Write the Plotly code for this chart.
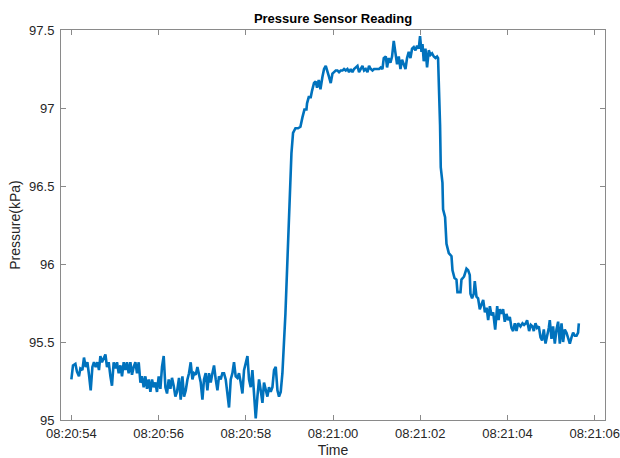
import pandas as pd
import plotly.graph_objects as go

# elapsed seconds after 08:20:54
t_sec = [
    0.000, 0.037, 0.092, 0.128, 0.174, 0.206, 0.252, 0.289, 0.328, 0.367, 0.404, 0.443, 0.482, 0.518,
    0.557, 0.596, 0.633, 0.665, 0.702, 0.741, 0.780, 0.817, 0.856, 0.895, 0.931, 0.970, 1.009, 1.046,
    1.085, 1.124, 1.161, 1.200, 1.239, 1.275, 1.314, 1.353, 1.390, 1.429, 1.468, 1.505, 1.544, 1.583,
    1.619, 1.658, 1.697, 1.734, 1.773, 1.812, 1.849, 1.888, 1.927, 1.963, 2.002, 2.041, 2.078, 2.117,
    2.156, 2.193, 2.232, 2.271, 2.307, 2.346, 2.385, 2.422,
    2.468, 2.507, 2.546, 2.583, 2.622, 2.661, 2.697, 2.736, 2.775, 2.812, 2.851, 2.890, 2.927, 2.966,
    3.005, 3.041, 3.080, 3.119, 3.156, 3.195, 3.234, 3.271, 3.310, 3.349, 3.385, 3.424, 3.463, 3.500,
    3.539, 3.578, 3.615, 3.654, 3.693, 3.729, 3.768, 3.807, 3.844, 3.883, 3.922, 3.959, 3.998, 4.037,
    4.073, 4.112, 4.151, 4.188, 4.227, 4.266, 4.303, 4.342, 4.381, 4.417, 4.456, 4.495, 4.532, 4.571,
    4.610, 4.647, 4.686, 4.725, 4.761, 4.800, 4.839,
    4.876, 4.908, 4.968, 5.023, 5.046, 5.083, 5.138, 5.197, 5.252, 5.298, 5.344, 5.390, 5.404, 5.443,
    5.489, 5.518, 5.564, 5.603, 5.633, 5.672, 5.711, 5.757, 5.794, 5.833, 5.872, 5.908, 5.947, 5.986,
    6.023, 6.062, 6.101, 6.138, 6.177, 6.216, 6.252, 6.291, 6.330, 6.367, 6.406, 6.445, 6.482, 6.521,
    6.560, 6.596, 6.635, 6.674, 6.711, 6.750, 6.789, 6.826, 6.865, 6.904, 6.940, 6.979, 7.018, 7.055,
    7.094, 7.133, 7.163, 7.209, 7.239, 7.277, 7.316, 7.353, 7.392, 7.431, 7.468, 7.507, 7.546, 7.583,
    7.622, 7.661, 7.697, 7.736, 7.775, 7.812, 7.851, 7.890, 7.927, 7.966, 7.995, 8.028, 8.051, 8.080,
    8.119, 8.156, 8.195, 8.234, 8.271, 8.310, 8.349, 8.385, 8.408, 8.431, 8.454,
    8.470, 8.509, 8.523, 8.569, 8.601, 8.654, 8.716, 8.739, 8.785, 8.830, 8.853, 8.922, 8.945, 9.005,
    9.060, 9.097, 9.135, 9.151, 9.188, 9.227, 9.250, 9.289, 9.326, 9.365, 9.404, 9.443, 9.482, 9.521,
    9.557, 9.596, 9.635, 9.672, 9.718, 9.764, 9.796,
    9.824, 9.863, 9.899, 9.938, 9.977, 10.014, 10.053, 10.092, 10.129, 10.168, 10.207, 10.243, 10.298,
    10.344, 10.381, 10.420, 10.450, 10.496, 10.535, 10.574, 10.603, 10.642, 10.679, 10.718, 10.757,
    10.794, 10.833, 10.872, 10.908, 10.947, 10.970, 11.009, 11.046, 11.085, 11.124, 11.161, 11.200,
    11.239, 11.275, 11.314, 11.353, 11.390, 11.429, 11.468, 11.505, 11.544, 11.583, 11.619, 11.636,
]

pressure = [
    95.26, 95.35, 95.36, 95.31, 95.28, 95.33, 95.32, 95.40, 95.34, 95.37, 95.29, 95.19, 95.34, 95.37,
    95.34, 95.37, 95.32, 95.41, 95.37, 95.39, 95.42, 95.34, 95.37, 95.28, 95.22, 95.37, 95.33, 95.37,
    95.30, 95.35, 95.28, 95.37, 95.32, 95.37, 95.30, 95.37, 95.29, 95.34, 95.37, 95.30, 95.37, 95.24,
    95.28, 95.21, 95.28, 95.20, 95.26, 95.18, 95.26, 95.21, 95.24, 95.18, 95.28, 95.20, 95.34, 95.41,
    95.21, 95.17, 95.26, 95.20, 95.27, 95.22, 95.15, 95.18,
    95.27, 95.13, 95.28, 95.15, 95.19, 95.26, 95.30, 95.37, 95.26, 95.30, 95.29, 95.34, 95.28, 95.24,
    95.13, 95.26, 95.30, 95.19, 95.30, 95.24, 95.30, 95.35, 95.26, 95.19, 95.28, 95.26, 95.30, 95.30,
    95.26, 95.18, 95.08, 95.26, 95.30, 95.37, 95.28, 95.27, 95.30, 95.24, 95.17, 95.32, 95.37, 95.41,
    95.26, 95.21, 95.32, 95.13, 95.01, 95.15, 95.26, 95.19, 95.11, 95.24, 95.19, 95.15, 95.21, 95.18,
    95.21, 95.32, 95.34, 95.19, 95.15, 95.18, 95.30,
    95.50, 95.68, 96.13, 96.54, 96.71, 96.84, 96.87, 96.87, 96.88, 96.94, 96.99, 96.99, 97.03, 97.07,
    97.07, 97.11, 97.16, 97.17, 97.13, 97.18, 97.12, 97.20, 97.25, 97.27, 97.24, 97.20, 97.16, 97.22,
    97.23, 97.24, 97.24, 97.23, 97.24, 97.24, 97.25, 97.24, 97.25, 97.23, 97.25, 97.23, 97.25, 97.26,
    97.27, 97.23, 97.25, 97.27, 97.24, 97.25, 97.23, 97.27, 97.25, 97.24, 97.25, 97.25, 97.25, 97.25,
    97.26, 97.25, 97.32, 97.33, 97.26, 97.32, 97.29, 97.33, 97.43, 97.36, 97.28, 97.33, 97.25, 97.31,
    97.28, 97.25, 97.32, 97.36, 97.32, 97.38, 97.39, 97.37, 97.40, 97.38, 97.46, 97.36, 97.41, 97.30,
    97.38, 97.26, 97.37, 97.34, 97.35, 97.33, 97.32, 97.33, 97.32, 97.13, 96.89,
    96.62, 96.52, 96.35, 96.30, 96.13, 96.07, 96.05, 95.96, 95.91, 95.90, 95.82, 95.82, 95.90, 95.92,
    95.97, 95.96, 95.93, 95.81, 95.78, 95.81, 95.89, 95.79, 95.78, 95.71, 95.74, 95.77, 95.69, 95.72,
    95.64, 95.73, 95.67, 95.69, 95.58, 95.73, 95.64,
    95.71, 95.68, 95.71, 95.63, 95.68, 95.64, 95.66, 95.59, 95.57, 95.62, 95.57, 95.62, 95.60,
    95.62, 95.61, 95.62, 95.64, 95.57, 95.61, 95.60, 95.57, 95.62, 95.59, 95.60, 95.53,
    95.51, 95.58, 95.49, 95.53, 95.59, 95.64, 95.52, 95.60, 95.49, 95.58, 95.63, 95.49,
    95.62, 95.50, 95.58, 95.56, 95.53, 95.49, 95.53, 95.56, 95.54, 95.54, 95.56, 95.62,
]

start_time = "2024-01-01 08:20:54"
x_range = ["2024-01-01 08:20:53.762", "2024-01-01 08:21:06.236"]
y_range = [95, 97.5]
y_ticks = [95, 95.5, 96, 96.5, 97, 97.5]

times = pd.Timestamp(start_time) + pd.to_timedelta(t_sec, unit="s")

FONT = "Liberation Sans, Arial, Helvetica, sans-serif"
AXIS_COLOR = "#8a8a8a"
TEXT_COLOR = "#262626"

fig = go.Figure()
fig.add_trace(go.Scatter(
    x=times, y=pressure, mode="lines",
    line=dict(color="#0072BD", width=2.6),
    showlegend=False,
))

fig.update_layout(
    width=620, height=458,
    margin=dict(l=61, r=15, t=30, b=38, autoexpand=False),
    paper_bgcolor="white", plot_bgcolor="white",
    font=dict(family=FONT, size=13, color=TEXT_COLOR),
    title=dict(
        text="<b>Pressure Sensor Reading</b>",
        x=0.5, xref="paper", xanchor="center",
        y=1 - 18 / 458, yref="container", yanchor="middle",
        font=dict(family=FONT, size=13, color="black"),
        automargin=False,
    ),
)

fig.update_xaxes(
    range=x_range, type="date", automargin=False,
    tickformat="%H:%M:%S", dtick=2000, tick0="2024-01-01 08:20:54",
    ticks="inside", ticklen=5, tickcolor=AXIS_COLOR, tickwidth=1,
    ticklabeloverflow="allow", ticklabelstandoff=1,
    showline=True, linecolor=AXIS_COLOR, linewidth=1, mirror="ticks",
    showgrid=False, zeroline=False,
    tickfont=dict(family=FONT, size=13, color=TEXT_COLOR),
    title=dict(text="Time", font=dict(family=FONT, size=14, color=TEXT_COLOR), standoff=8),
)
fig.update_yaxes(
    range=y_range, tickvals=y_ticks, automargin=False,
    ticks="inside", ticklen=5, tickcolor=AXIS_COLOR, tickwidth=1,
    ticklabelstandoff=3,
    showline=True, linecolor=AXIS_COLOR, linewidth=1, mirror="ticks",
    showgrid=False, zeroline=False,
    tickfont=dict(family=FONT, size=13, color=TEXT_COLOR),
    title=dict(text="Pressure(kPa)", font=dict(family=FONT, size=14, color=TEXT_COLOR), standoff=5),
)

# remove the page's default body margin so the figure fills the window exactly
fig.write_html(
    "out.html",
    config={"displayModeBar": False},
    post_script="document.body.style.margin='0';document.body.style.overflow='hidden';",
)
